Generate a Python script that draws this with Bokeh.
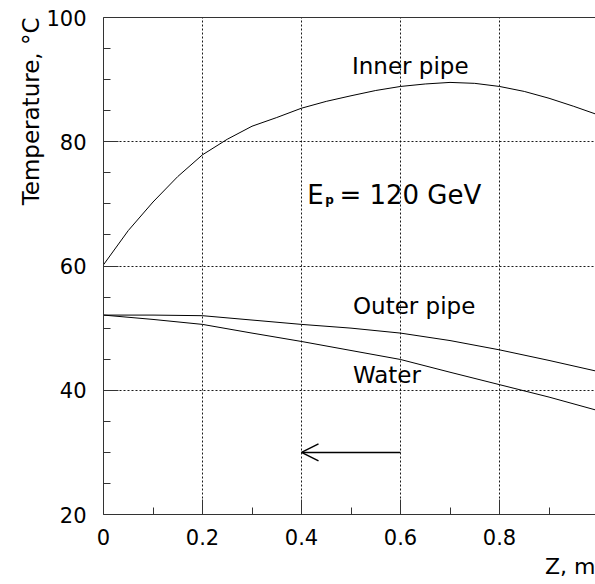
from bokeh.plotting import figure
from bokeh.models import (Label, Arrow, OpenHead, LinearAxis, Range1d,
                          FixedTicker, Title)
from bokeh.embed import file_html
from bokeh.resources import INLINE

# ---- data ----
z_inner = [0.0, 0.05, 0.1, 0.15, 0.2, 0.25, 0.3, 0.35, 0.4, 0.45, 0.5, 0.55, 0.6,
           0.65, 0.7, 0.75, 0.8, 0.85, 0.9, 0.95, 1.0]
t_inner = [60.2, 65.7, 70.3, 74.4, 77.9, 80.4, 82.5, 83.9, 85.4, 86.5, 87.4, 88.25, 88.9,
           89.3, 89.55, 89.4, 88.9, 88.1, 87.0, 85.7, 84.3]

z_pipe = [0.0, 0.1, 0.2, 0.3, 0.4, 0.5, 0.6, 0.7, 0.8, 0.9, 1.0]
t_outer = [52.1, 52.1, 52.0, 51.3, 50.6, 50.0, 49.2, 48.0, 46.5, 44.8, 43.0]
t_water = [52.1, 51.4, 50.6, 49.2, 47.85, 46.4, 44.95, 42.9, 40.9, 38.9, 36.7]

x_ticks = [0, 0.2, 0.4, 0.6, 0.8]
y_ticks = [20, 40, 60, 80, 100]
arrow_from, arrow_to, arrow_y = 0.6, 0.4, 30.0

FONT = "DejaVu Sans"

p = figure(width=595, height=584, output_backend="svg", toolbar_location=None,
           x_range=Range1d(0, 0.9939), y_range=Range1d(20, 100),
           min_border_left=103, min_border_right=0, min_border_top=17,
           min_border_bottom=70)
p.outline_line_color = None
p.background_fill_color = "white"
p.border_fill_color = "white"

# axes
for ax in (p.xaxis[0], p.yaxis[0]):
    ax.axis_line_color = "#333333"
    ax.major_tick_line_color = "#333333"
    ax.minor_tick_line_color = "#333333"
    ax.major_tick_out = 0
    ax.minor_tick_out = 0
    ax.major_tick_in = 15
    ax.minor_tick_in = 7
    ax.major_label_text_font = FONT
    ax.major_label_text_font_size = "21px"
    ax.major_label_text_color = "black"

p.xaxis[0].ticker = FixedTicker(ticks=x_ticks, minor_ticks=[0.1, 0.3, 0.5, 0.7, 0.9])
p.yaxis[0].ticker = FixedTicker(ticks=y_ticks, minor_ticks=[25, 30, 35, 45, 50, 55, 65, 70, 75, 85, 90, 95])
p.xaxis[0].major_label_standoff = 14
p.yaxis[0].major_label_standoff = 17

# top border line as a bare axis
top = LinearAxis(ticker=FixedTicker(ticks=[]), axis_line_color="#333333",
                 major_tick_line_color=None, minor_tick_line_color=None,
                 major_label_standoff=0)
p.add_layout(top, "above")

# grid
p.xgrid.ticker = FixedTicker(ticks=[0.2, 0.4, 0.6, 0.8])
p.ygrid.ticker = FixedTicker(ticks=[40, 60, 80])
for g in (p.xgrid[0], p.ygrid[0]):
    g.grid_line_color = "black"
    g.grid_line_dash = "2 2"
    g.grid_line_width = 1
    g.grid_line_alpha = 0.9

# curves
p.line(z_inner, t_inner, line_color="black", line_width=1)
p.line(z_pipe, t_outer, line_color="black", line_width=1)
p.line(z_pipe, t_water, line_color="black", line_width=1)

# arrow
p.add_layout(Arrow(x_start=arrow_from, y_start=arrow_y, x_end=arrow_to, y_end=arrow_y,
                   line_width=1.5, line_color="black",
                   end=OpenHead(size=17, line_width=1.5, line_color="black")))

def lab(x, y, text, size, **kw):
    p.add_layout(Label(x=x, y=y, text=text, text_font=FONT,
                       text_font_size=size, text_color="black",
                       text_baseline="alphabetic", text_align="left", **kw))

lab(0.502, 92.2, "Inner pipe", "23px")
lab(0.504, 53.55, "Outer pipe", "23px")
lab(0.504, 42.45, "Water", "23px")
lab(0.4115, 71.4, "E", "26px")
lab(0.448, 70.6, "p", "12px", text_font_style="bold")
lab(0.4765, 71.4, "= 120 GeV", "26px")

# axis titles (end-aligned like the reference)
p.add_layout(Title(text="Temperature, °C", align="right", text_font=FONT,
                   text_font_size="23px", text_font_style="normal",
                   text_color="black", standoff=0, offset=0), "left")
p.add_layout(Title(text="Z, m", align="right", text_font=FONT,
                   text_font_size="22px", text_font_style="normal",
                   text_color="black", standoff=8, offset=0,
                   text_line_height=0.7), "below")

open("out.html", "w").write(file_html(p, INLINE))
